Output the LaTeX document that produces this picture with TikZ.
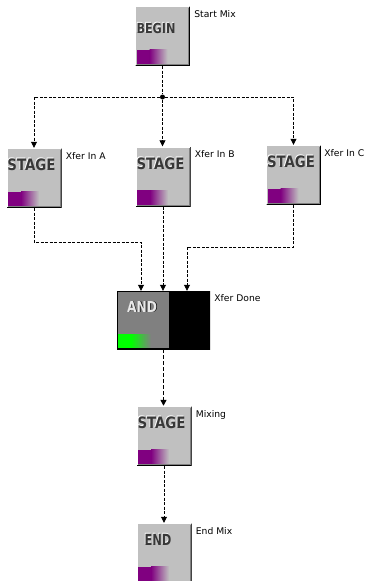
\documentclass[tikz,border=0pt]{standalone}
\usepackage{fontspec}
\setmainfont{DejaVu Sans}
\usetikzlibrary{arrows.meta}

\definecolor{winGray}{HTML}{C0C0C0}
\definecolor{winDark}{HTML}{808080}
\definecolor{winPurple}{HTML}{800080}
\definecolor{winGreen}{HTML}{00FF00}
\definecolor{wordDark}{HTML}{383838}
\definecolor{wordLight}{HTML}{E8E8E8}

% dark word with a white edge (width, height, word)
\newcommand{\raisedword}[3]{%
  \resizebox{#1}{#2}{\makebox[0pt][l]{\kern-0.5pt\raisebox{0.5pt}{\textcolor{white}{\bfseries #3}}}\textcolor{wordDark}{\bfseries #3}}}
% light word with a black shadow (width, height, word)
\newcommand{\litword}[3]{%
  \resizebox{#1}{#2}{\makebox[0pt][l]{\kern0.6pt\raisebox{-0.6pt}{\textcolor{black}{\bfseries #3}}}\textcolor{wordLight}{\bfseries #3}}}

\begin{document}
\begin{tikzpicture}[x=1pt, y=-1pt]
% Define styles
\tikzset{
    stagebox/.style={rectangle, fill=winGray, minimum width=55pt, minimum height=60pt, inner sep=0pt,
        path picture={
            \fill[winPurple] ([shift={(1.5pt,1.5pt)}]path picture bounding box.south west) rectangle ++(13pt,15pt);
            \shade[left color=winPurple, right color=winGray] ([shift={(14.5pt,1.5pt)}]path picture bounding box.south west) rectangle ++(18pt,15pt);
            \draw[white, line width=1pt] ([shift={(0.5pt,1pt)}]path picture bounding box.south west) |- ([shift={(-1pt,-0.5pt)}]path picture bounding box.north east);
            \draw[black, line width=1pt] ([shift={(0.5pt,0.5pt)}]path picture bounding box.south west) -| ([shift={(-0.5pt,-0.5pt)}]path picture bounding box.north east);
            \draw[winDark, line width=1pt] ([shift={(1.5pt,1.5pt)}]path picture bounding box.south west) -| ([shift={(-1.5pt,-1.5pt)}]path picture bounding box.north east);
        }},
    andbox/.style={rectangle, fill=winDark, minimum width=93pt, minimum height=58pt, inner sep=0pt,
        path picture={
            \fill[black] ([xshift=52pt]path picture bounding box.south west) rectangle (path picture bounding box.north east);
            \fill[winGreen] (path picture bounding box.south west) rectangle ++(14pt,15pt);
            \shade[left color=winGreen, right color=winDark] ([xshift=14pt]path picture bounding box.south west) rectangle ++(20pt,15pt);
            \draw[black, line width=1.2pt] (path picture bounding box.south west) rectangle (path picture bounding box.north east);
        }},
    wordtag/.style={anchor=north west, inner sep=0pt},
    tag/.style={anchor=north west, inner sep=0pt, font=\fontsize{9.2}{11}\selectfont},
    junction/.style={circle, fill=black, inner sep=0pt, minimum size=5pt},
    flow/.style={draw=black, line width=0.8pt, dash pattern=on 3pt off 1.5pt},
    flowarrow/.style={flow, -{Triangle[length=6pt,width=6pt]}}
}

\useasboundingbox (0,0) rectangle (365,581);

% Boxes
\node[stagebox] (begin) at (162.5,36) {};
\node[stagebox] (inA) at (34,178) {};
\node[stagebox] (inB) at (163,176.5) {};
\node[stagebox] (inC) at (293.5,175) {};
\node[andbox] (done) at (163.5,320) {};
\node[stagebox] (mix) at (164,436) {};
\node[stagebox] (end) at (164,553) {};

% Words in the boxes
\node[wordtag] (beginWord) at ([shift={(1.5pt,-16pt)}]begin.north west) {\raisedword{39pt}{11pt}{BEGIN}};
\node[wordtag] (inAWord) at ([shift={(1pt,-10pt)}]inA.north west) {\raisedword{48pt}{12.5pt}{STAGE}};
\node[wordtag] (inBWord) at ([shift={(1pt,-10pt)}]inB.north west) {\raisedword{48pt}{12.5pt}{STAGE}};
\node[wordtag] (inCWord) at ([shift={(1pt,-10pt)}]inC.north west) {\raisedword{48pt}{12.5pt}{STAGE}};
\node[wordtag] (doneWord) at ([shift={(10pt,-10pt)}]done.north west) {\litword{30pt}{11pt}{AND}};
\node[wordtag] (mixWord) at ([shift={(1pt,-10pt)}]mix.north west) {\raisedword{48pt}{12.5pt}{STAGE}};
\node[wordtag] (endWord) at ([shift={(8pt,-10pt)}]end.north west) {\raisedword{27pt}{12pt}{END}};

% Labels beside the boxes
\node[tag] (beginTag) at ([shift={(4pt,-4.5pt)}]begin.north east) {Start Mix};
\node[tag] (inATag) at ([shift={(4pt,-4.5pt)}]inA.north east) {Xfer In A};
\node[tag] (inBTag) at ([shift={(4pt,-4.5pt)}]inB.north east) {Xfer In B};
\node[tag] (inCTag) at ([shift={(3pt,-4.5pt)}]inC.north east) {Xfer In C};
\node[tag] (doneTag) at ([shift={(4pt,-4pt)}]done.north east) {Xfer Done};
\node[tag] (mixTag) at ([shift={(4pt,-5pt)}]mix.north east) {Mixing};
\node[tag] (endTag) at ([shift={(4pt,-4.5pt)}]end.north east) {End Mix};

% Split after the start
\node[junction] (split) at (162.5,97) {};
\draw[flow] (begin) -- (split);
\draw[flowarrow] (split) -| (inA);
\draw[flowarrow] (split) -- (split |- inB.north);
\draw[flowarrow] (split) -| (inC);

% Join into the AND box
\coordinate (joinA) at (141,242);
\coordinate (joinC) at (187,247);
\draw[flowarrow] (inA) |- (joinA) -- (joinA |- done.north);
\draw[flowarrow] (inB) -- (inB |- done.north);
\draw[flowarrow] (inC) |- (joinC) -- (joinC |- done.north);

% Down to the end
\draw[flowarrow, line width=1.4pt, dash pattern=on 4pt off 2pt] (done) -- (done.south |- mix.north);
\draw[flowarrow] (mix) -- (end);

\end{tikzpicture}
\end{document}
